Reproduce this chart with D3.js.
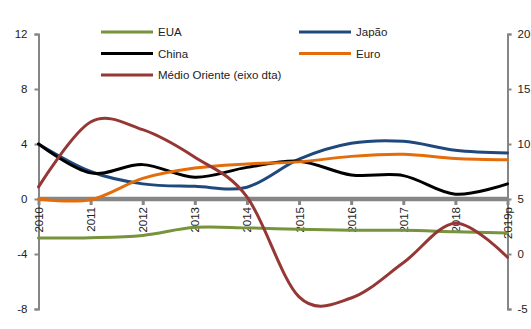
<!DOCTYPE html>
<html>
<head>
<meta charset="utf-8">
<script src="https://cdn.jsdelivr.net/npm/d3@7/dist/d3.min.js"></script>
<style>
  html, body { margin: 0; padding: 0; background: #fff; }
  svg text { font-family: "Liberation Sans", Arial, sans-serif; }
</style>
</head>
<body>
<svg id="chart" width="531" height="329"></svg>
<script>
// Categories (years) and series values
const years = ["2010", "2011", "2012", "2013", "2014", "2015", "2016", "2017", "2018", "2019p"];
const eua    = [-2.84, -2.82, -2.65, -2.06, -2.1, -2.2, -2.27, -2.28, -2.38, -2.47];
const japao  = [4.0, 2.0, 1.1, 0.92, 0.86, 2.9, 4.05, 4.2, 3.55, 3.35];
const china  = [4.0, 1.9, 2.5, 1.58, 2.3, 2.75, 1.75, 1.7, 0.35, 1.1];
const euro   = [0.0, -0.05, 1.5, 2.25, 2.55, 2.7, 3.1, 3.25, 2.95, 2.85];
const medioOriente = [6.1, 12.0, 11.3, 8.8, 5.2, -3.9, -4.0, -0.8, 2.8, -0.3]; // right axis

const leftTicks  = [-8, -4, 0, 4, 8, 12];
const rightTicks = [-5, 0, 5, 10, 15, 20];

const colors = {
  eua: "#77933C", japao: "#1F497D", china: "#000000", euro: "#E46C0A", mo: "#953735"
};

const svg = d3.select("#chart");
const x0 = 38.5, x1 = 507.5, yTop = 34, yBot = 309;

const x = d3.scalePoint().domain(years).range([x0, x1]);
const yL = d3.scaleLinear().domain([-8, 12]).range([yBot, yTop]);
const yR = d3.scaleLinear().domain([-5, 20]).range([yBot, yTop]);

const axisColor = "#868686";
const plainNumber = d => String(d); // hyphen-minus for negatives

// Left axis
const gL = svg.append("g").attr("transform", `translate(${x0},0)`)
  .call(d3.axisLeft(yL).tickValues(leftTicks).tickSize(4).tickPadding(7).tickFormat(plainNumber));
// Right axis
const gR = svg.append("g").attr("transform", `translate(${x1},0)`)
  .call(d3.axisRight(yR).tickValues(rightTicks).tickSize(4).tickPadding(6).tickFormat(plainNumber));
[gL, gR].forEach(g => {
  g.select(".domain").attr("stroke", axisColor).attr("stroke-width", 2);
  g.selectAll(".tick line").attr("stroke", axisColor).attr("stroke-width", 2);
  g.selectAll(".tick text").attr("fill", "#222").attr("font-size", 11.5);
});

// Category axis at zero
const gX = svg.append("g").attr("transform", `translate(0,${yL(0)})`)
  .call(d3.axisBottom(x).tickSize(6).tickPadding(4));
gX.select(".domain").attr("stroke", axisColor).attr("stroke-width", 4.5)
  .attr("d", `M${x0},0H${x1}`);
gX.selectAll(".tick line").attr("stroke", axisColor).attr("stroke-width", 3);
gX.selectAll(".tick text")
  .attr("fill", "#222").attr("font-size", 11.5)
  .attr("text-anchor", "end")
  .attr("transform", "rotate(-90)")
  .attr("x", -8).attr("y", 0).attr("dy", "0.35em");

// Series lines
const lineL = d3.line().x((d, i) => x(years[i])).y(d => yL(d)).curve(d3.curveCardinal.tension(0));
const lineR = d3.line().x((d, i) => x(years[i])).y(d => yR(d)).curve(d3.curveCardinal.tension(0));

const series = [
  { data: eua, color: colors.eua, line: lineL },
  { data: japao, color: colors.japao, line: lineL },
  { data: china, color: colors.china, line: lineL },
  { data: euro, color: colors.euro, line: lineL },
  { data: medioOriente, color: colors.mo, line: lineR }
];
svg.append("g").selectAll("path").data(series).join("path")
  .attr("d", s => s.line(s.data))
  .attr("fill", "none")
  .attr("stroke", s => s.color)
  .attr("stroke-width", 3)
  .attr("stroke-linejoin", "round")
  .attr("stroke-linecap", "round");

// Legend
const legendItems = [
  { label: "EUA", color: colors.eua, lx: 101, ly: 32 },
  { label: "Japão", color: colors.japao, lx: 299, ly: 32 },
  { label: "China", color: colors.china, lx: 101, ly: 53.5 },
  { label: "Euro", color: colors.euro, lx: 299, ly: 53.5 },
  { label: "Médio Oriente (eixo dta)", color: colors.mo, lx: 101, ly: 75 }
];
const lg = svg.append("g").selectAll("g").data(legendItems).join("g")
  .attr("transform", d => `translate(${d.lx},${d.ly})`);
lg.append("line").attr("x1", 0).attr("x2", 52).attr("y1", 0).attr("y2", 0)
  .attr("stroke", d => d.color).attr("stroke-width", 3);
lg.append("text").attr("x", 57).attr("y", 0).attr("dy", "0.35em")
  .attr("font-size", 11.5).attr("fill", "#222").text(d => d.label);
</script>
</body>
</html>
